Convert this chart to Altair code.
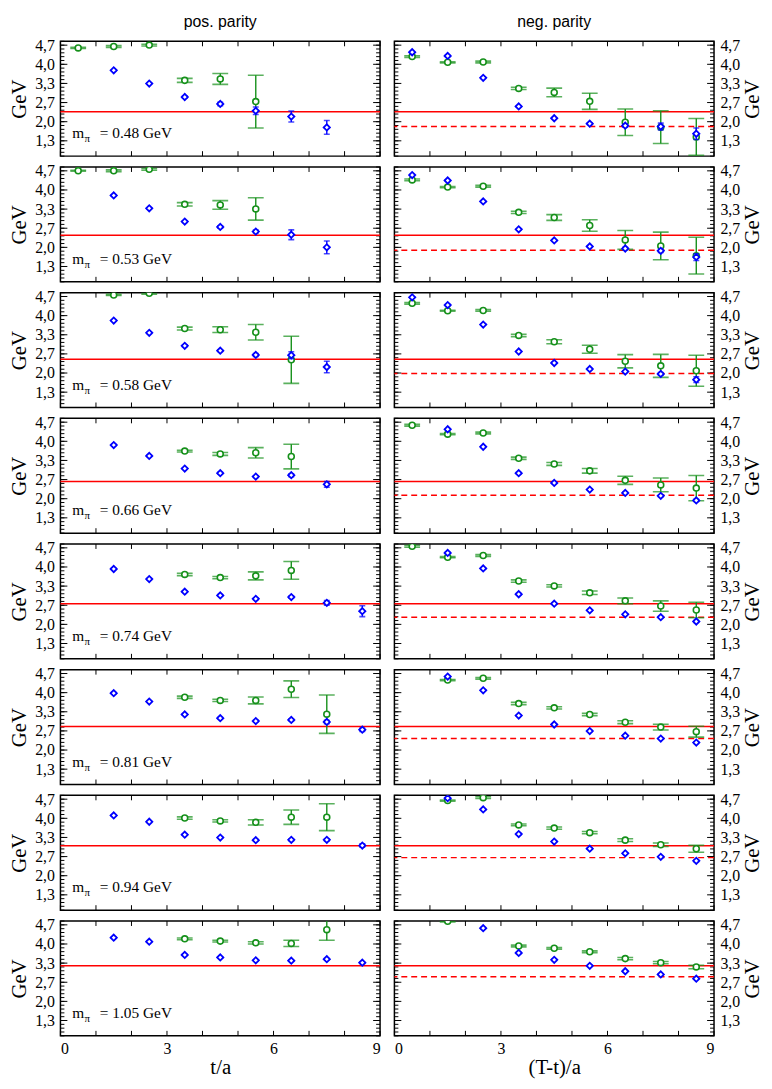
import altair as alt
import pandas as pd

# ---------------- data ----------------
MPI = [0.48, 0.53, 0.58, 0.66, 0.74, 0.81, 0.94, 1.05]
RED_SOLID = [2.35, 2.42, 2.48, 2.60, 2.72, 2.82, 3.04, 3.24]
RED_DASHED = [1.83, 1.90, 1.98, 2.12, 2.25, 2.40, 2.63, 2.86]

# (t, E, dE) per row
POS_GREEN = [
    [(0.5, 4.57, 0.02), (1.5, 4.62, 0.03), (2.5, 4.67, 0.03), (3.5, 3.44, 0.07), (4.5, 3.49, 0.19), (5.5, 2.70, 0.92)],
    [(0.5, 4.67, 0.02), (1.5, 4.67, 0.03), (2.5, 4.72, 0.03), (3.5, 3.50, 0.06), (4.5, 3.48, 0.15), (5.5, 3.34, 0.39)],
    [(1.5, 4.72, 0.02), (2.5, 4.78, 0.03), (3.5, 3.55, 0.05), (4.5, 3.51, 0.10), (5.5, 3.42, 0.27), (6.5, 2.46, 0.82)],
    [(3.5, 3.66, 0.03), (4.5, 3.56, 0.05), (5.5, 3.60, 0.18), (6.5, 3.47, 0.43)],
    [(3.5, 3.74, 0.04), (4.5, 3.63, 0.04), (5.5, 3.69, 0.14), (6.5, 3.88, 0.31)],
    [(3.5, 3.84, 0.04), (4.5, 3.73, 0.04), (5.5, 3.73, 0.12), (6.5, 4.12, 0.29), (7.5, 3.25, 0.67)],
    [(3.5, 4.01, 0.04), (4.5, 3.91, 0.04), (5.5, 3.86, 0.09), (6.5, 4.04, 0.25), (7.5, 4.04, 0.47)],
    [(3.5, 4.18, 0.03), (4.5, 4.10, 0.03), (5.5, 4.04, 0.04), (6.5, 4.02, 0.11), (7.5, 4.50, 0.37)],
]
POS_BLUE = [
    [(1.5, 3.79, 0.02), (2.5, 3.33, 0.02), (3.5, 2.86, 0.03), (4.5, 2.62, 0.06), (5.5, 2.38, 0.13), (6.5, 2.18, 0.19), (7.5, 1.80, 0.24)],
    [(1.5, 3.81, 0.02), (2.5, 3.36, 0.02), (3.5, 2.90, 0.03), (4.5, 2.71, 0.04), (5.5, 2.55, 0.05), (6.5, 2.44, 0.17), (7.5, 2.00, 0.22)],
    [(1.5, 3.83, 0.02), (2.5, 3.40, 0.02), (3.5, 2.95, 0.03), (4.5, 2.78, 0.03), (5.5, 2.63, 0.05), (6.5, 2.62, 0.12), (7.5, 2.21, 0.20)],
    [(1.5, 3.87, 0.02), (2.5, 3.49, 0.02), (3.5, 3.05, 0.02), (4.5, 2.89, 0.03), (5.5, 2.77, 0.03), (6.5, 2.82, 0.05), (7.5, 2.50, 0.10)],
    [(1.5, 3.93, 0.02), (2.5, 3.58, 0.02), (3.5, 3.14, 0.02), (4.5, 3.01, 0.03), (5.5, 2.89, 0.03), (6.5, 2.95, 0.04), (7.5, 2.75, 0.08), (8.5, 2.46, 0.19)],
    [(1.5, 3.98, 0.02), (2.5, 3.69, 0.02), (3.5, 3.24, 0.02), (4.5, 3.11, 0.02), (5.5, 3.01, 0.03), (6.5, 3.05, 0.03), (7.5, 2.98, 0.06), (8.5, 2.71, 0.06)],
    [(1.5, 4.10, 0.02), (2.5, 3.88, 0.02), (3.5, 3.43, 0.02), (4.5, 3.33, 0.02), (5.5, 3.24, 0.02), (6.5, 3.25, 0.03), (7.5, 3.25, 0.04), (8.5, 3.05, 0.06)],
    [(1.5, 4.22, 0.02), (2.5, 4.08, 0.02), (3.5, 3.62, 0.02), (4.5, 3.53, 0.02), (5.5, 3.43, 0.02), (6.5, 3.42, 0.02), (7.5, 3.47, 0.02), (8.5, 3.35, 0.03)],
]
NEG_GREEN = [
    [(0.5, 4.27, 0.03), (1.5, 4.07, 0.02), (2.5, 4.08, 0.03), (3.5, 3.16, 0.04), (4.5, 3.02, 0.15), (5.5, 2.71, 0.28), (6.5, 1.98, 0.46), (7.5, 1.81, 0.57), (8.5, 1.47, 0.64)],
    [(0.5, 4.35, 0.03), (1.5, 4.10, 0.02), (2.5, 4.13, 0.03), (3.5, 3.22, 0.04), (4.5, 3.04, 0.10), (5.5, 2.76, 0.20), (6.5, 2.26, 0.33), (7.5, 2.05, 0.48), (8.5, 1.71, 0.64)],
    [(0.5, 4.43, 0.03), (1.5, 4.17, 0.02), (2.5, 4.18, 0.03), (3.5, 3.31, 0.04), (4.5, 3.09, 0.07), (5.5, 2.83, 0.14), (6.5, 2.41, 0.23), (7.5, 2.25, 0.40), (8.5, 2.08, 0.54)],
    [(0.5, 4.56, 0.03), (1.5, 4.25, 0.02), (2.5, 4.29, 0.03), (3.5, 3.41, 0.04), (4.5, 3.21, 0.05), (5.5, 2.97, 0.08), (6.5, 2.64, 0.14), (7.5, 2.48, 0.24), (8.5, 2.37, 0.44)],
    [(0.5, 4.72, 0.03), (1.5, 4.34, 0.02), (2.5, 4.40, 0.03), (3.5, 3.51, 0.04), (4.5, 3.34, 0.04), (5.5, 3.10, 0.06), (6.5, 2.82, 0.10), (7.5, 2.64, 0.18), (8.5, 2.50, 0.27)],
    [(1.5, 4.44, 0.02), (2.5, 4.50, 0.03), (3.5, 3.62, 0.04), (4.5, 3.47, 0.04), (5.5, 3.24, 0.04), (6.5, 2.97, 0.05), (7.5, 2.80, 0.10), (8.5, 2.64, 0.19)],
    [(1.5, 4.62, 0.02), (2.5, 4.72, 0.03), (3.5, 3.77, 0.03), (4.5, 3.66, 0.04), (5.5, 3.50, 0.04), (6.5, 3.24, 0.05), (7.5, 3.08, 0.06), (8.5, 2.94, 0.12)],
    [(1.5, 4.79, 0.02), (3.5, 3.93, 0.03), (4.5, 3.85, 0.03), (5.5, 3.73, 0.03), (6.5, 3.49, 0.04), (7.5, 3.35, 0.04), (8.5, 3.20, 0.06)],
]
NEG_BLUE = [
    [(0.5, 4.42, 0.02), (1.5, 4.29, 0.02), (2.5, 3.53, 0.02), (3.5, 2.53, 0.02), (4.5, 2.12, 0.02), (5.5, 1.93, 0.03), (6.5, 1.86, 0.05), (7.5, 1.83, 0.12), (8.5, 1.58, 0.20)],
    [(0.5, 4.52, 0.02), (1.5, 4.33, 0.02), (2.5, 3.60, 0.02), (3.5, 2.63, 0.02), (4.5, 2.24, 0.02), (5.5, 2.03, 0.02), (6.5, 1.96, 0.04), (7.5, 1.88, 0.06), (8.5, 1.66, 0.12)],
    [(0.5, 4.64, 0.02), (1.5, 4.37, 0.02), (2.5, 3.69, 0.02), (3.5, 2.75, 0.02), (4.5, 2.35, 0.02), (5.5, 2.14, 0.02), (6.5, 2.05, 0.03), (7.5, 1.97, 0.05), (8.5, 1.77, 0.10)],
    [(1.5, 4.42, 0.02), (2.5, 3.81, 0.02), (3.5, 2.89, 0.02), (4.5, 2.55, 0.02), (5.5, 2.32, 0.02), (6.5, 2.20, 0.02), (7.5, 2.10, 0.03), (8.5, 1.94, 0.04)],
    [(1.5, 4.49, 0.02), (2.5, 3.95, 0.02), (3.5, 3.05, 0.02), (4.5, 2.72, 0.02), (5.5, 2.49, 0.02), (6.5, 2.35, 0.02), (7.5, 2.25, 0.02), (8.5, 2.10, 0.03)],
    [(1.5, 4.56, 0.02), (2.5, 4.08, 0.02), (3.5, 3.20, 0.02), (4.5, 2.89, 0.02), (5.5, 2.66, 0.02), (6.5, 2.50, 0.02), (7.5, 2.40, 0.02), (8.5, 2.26, 0.03)],
    [(1.5, 4.70, 0.02), (2.5, 4.31, 0.02), (3.5, 3.45, 0.02), (4.5, 3.19, 0.02), (5.5, 2.94, 0.02), (6.5, 2.78, 0.02), (7.5, 2.66, 0.02), (8.5, 2.52, 0.03)],
    [(2.5, 4.55, 0.02), (3.5, 3.69, 0.02), (4.5, 3.45, 0.02), (5.5, 3.24, 0.02), (6.5, 3.05, 0.02), (7.5, 2.94, 0.02), (8.5, 2.79, 0.02)],
]

Y_TICKS = [4 / 3, 2.0, 8 / 3, 10 / 3, 4.0, 14 / 3]
Y_MINOR = [0.8 + k * 2 / 15 for k in range(31)]
Y_DOMAIN = [0.8, 4.8]
X_TICKS = list(range(10))
X_LABELS = [0, 3, 6, 9]
X_DOMAIN = [0, 9]
COL_TITLES = ["pos. parity", "neg. parity"]
X_TITLES = ["t/a", "(T-t)/a"]

# ---------------- style ----------------
W, H = 323, 116
GREEN = "#15901a"
BLUE = "#0000ff"
RED = "#ff0000"
SERIF = "Liberation Serif"
SANS = "Liberation Sans"


def err_df(rows):
    df = pd.DataFrame(rows, columns=["t", "v", "e"])
    df["lo"] = df["v"] - df["e"]
    df["hi"] = df["v"] + df["e"]
    return df


def panel(col, r):
    right = col == 1
    bottom = r == len(MPI) - 1
    yaxis = alt.Axis(
        orient="right" if right else "left",
        values=Y_TICKS,
        labelExpr="replace(format(datum.value, '.1f'), '.', ',')",
        title="GeV",
        titleAngle=270,
        titleBaseline="top" if right else "bottom",
        ticks=False,
        tickSize=0,
        domain=False,
        grid=False,
        labelPadding=6 if right else 6,
        titlePadding=2 if right else 5,
        labelFont=SERIF,
        titleFont=SERIF,
        labelFontSize=16,
        titleFontSize=21,
        labelColor="black",
        titleColor="black",
        titleFontWeight="normal",
    )
    if bottom:
        xaxis = alt.Axis(
            values=X_LABELS,
            format="d",
            title=X_TITLES[col],
            ticks=False,
            tickSize=0,
            domain=False,
            grid=False,
            labelPadding=5,
            titlePadding=0,
            labelFont=SERIF,
            titleFont=SERIF,
            labelFontSize=16,
            titleFontSize=21,
            labelColor="black",
            titleColor="black",
            titleFontWeight="normal",
        )
    else:
        xaxis = None
    xs = alt.Scale(domain=X_DOMAIN, nice=False, zero=False)
    ys = alt.Scale(domain=Y_DOMAIN, nice=False, zero=False)

    def X(f):
        return alt.X(f, type="quantitative", scale=xs, axis=xaxis)

    def Y(f):
        return alt.Y(f, type="quantitative", scale=ys, axis=yaxis)

    layers = []
    ymaj = pd.DataFrame({"v": Y_TICKS})
    ymin = pd.DataFrame({"v": Y_MINOR})
    xt = pd.DataFrame({"t": X_TICKS})
    for df, ln in ((ymin, 4), (ymaj, 7)):
        layers.append(alt.Chart(df).mark_rule(color="black", strokeWidth=1)
                      .encode(y=Y("v"), x=alt.value(0), x2=alt.value(ln)))
        layers.append(alt.Chart(df).mark_rule(color="black", strokeWidth=1)
                      .encode(y=Y("v"), x=alt.value(W), x2=alt.value(W - ln)))
    layers.append(alt.Chart(xt).mark_rule(color="black", strokeWidth=1)
                  .encode(x=X("t"), y=alt.value(H), y2=alt.value(H - 5)))
    layers.append(alt.Chart(xt).mark_rule(color="black", strokeWidth=1)
                  .encode(x=X("t"), y=alt.value(0), y2=alt.value(5)))

    # reference lines
    layers.append(alt.Chart(pd.DataFrame({"v": [RED_SOLID[r]]}))
                  .mark_rule(color=RED, strokeWidth=1.5).encode(y=Y("v")))
    if right:
        layers.append(alt.Chart(pd.DataFrame({"v": [RED_DASHED[r]]}))
                      .mark_rule(color=RED, strokeWidth=1.5, strokeDash=[6, 4]).encode(y=Y("v")))

    green = err_df(NEG_GREEN[r] if right else POS_GREEN[r])
    blue = err_df(NEG_BLUE[r] if right else POS_BLUE[r])

    for df, c, capw, shape, size, sw in ((green, GREEN, 16, "circle", 36, 1.6),
                                         (blue, BLUE, 6, "diamond", 40, 1.8)):
        base = alt.Chart(df)
        layers.append(base.mark_rule(color=c, strokeWidth=1.4, clip=True)
                      .encode(x=X("t"), y=Y("lo"), y2=alt.Y2("hi")))
        for f in ("lo", "hi"):
            layers.append(base.mark_tick(orient="horizontal", size=capw, thickness=1.6, color=c, clip=True)
                          .encode(x=X("t"), y=Y(f)))
        layers.append(base.mark_point(shape=shape, size=size, fill="white", fillOpacity=1,
                                      stroke=c, strokeWidth=sw, opacity=1, clip=True)
                      .encode(x=X("t"), y=Y("v")))

    if not right:
        ann = pd.DataFrame({"x": [0.33], "y": [1.42], "m": ["m"], "p": ["π"],
                            "rest": [f"= {MPI[r]:.2f} GeV"]})
        a = alt.Chart(ann)
        layers.append(a.mark_text(font=SERIF, fontSize=15.5, align="left", baseline="alphabetic", color="black")
                      .encode(x=X("x"), y=Y("y"), text="m:N"))
        layers.append(a.mark_text(font=SERIF, fontSize=11, align="left", baseline="alphabetic", color="black",
                                  dx=12.5, dy=4)
                      .encode(x=X("x"), y=Y("y"), text="p:N"))
        layers.append(a.mark_text(font=SERIF, fontSize=15.5, align="left", baseline="alphabetic", color="black",
                                  dx=28)
                      .encode(x=X("x"), y=Y("y"), text="rest:N"))

    ch = alt.layer(*layers).properties(width=W, height=H)
    if r == 0:
        ch = ch.properties(title=alt.TitleParams(COL_TITLES[col], font=SANS, fontSize=16,
                                                 fontWeight="normal", offset=7, color="black"))
    return ch


panels = []
for r in range(len(MPI)):
    panels.append(panel(0, r))
    panels.append(panel(1, r))

chart = (
    alt.concat(*panels, columns=2, spacing={"row": 11, "column": 14.5}, bounds="flush")
    .properties(padding=0, background="white")
    .configure_view(stroke="black", strokeWidth=1.5)
    .configure_axis(labelFont=SERIF, titleFont=SERIF, labelFontSize=16, titleFontSize=21,
                    labelColor="black", titleColor="black", titleFontWeight="normal")
    .configure_text(font=SERIF)
)

chart.save("out.html", embed_options={"renderer": "svg", "actions": False})
